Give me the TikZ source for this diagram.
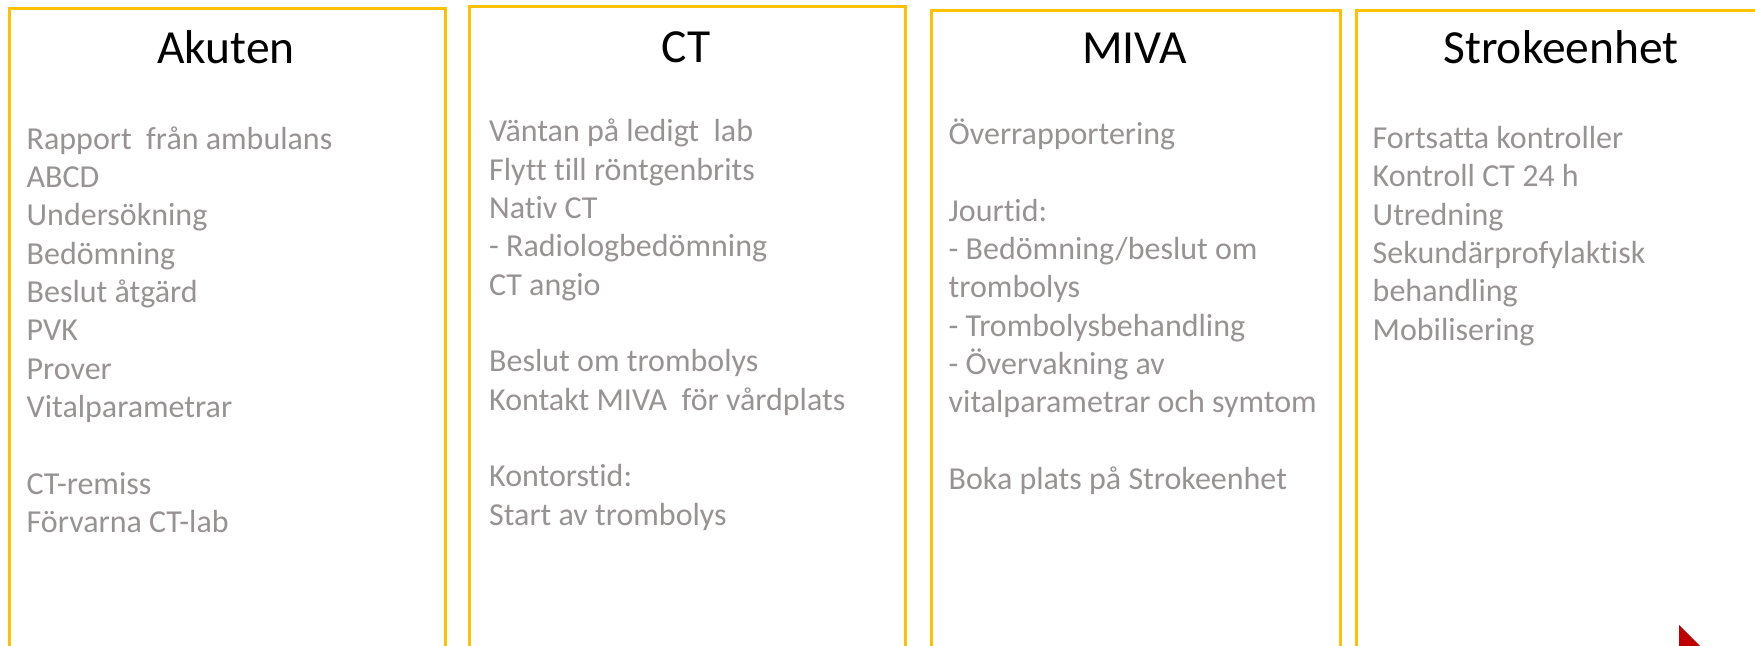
\documentclass[tikz,border=0pt]{standalone}
\usepackage{fontspec}
\setmainfont{Carlito}[Ligatures=NoCommon]
\definecolor{boxgold}{RGB}{255,192,0}
\definecolor{bodygray}{RGB}{151,147,147}
\definecolor{arrowred}{RGB}{192,0,0}
\newcommand\bodylines[1]{\vtop{\baselineskip=38.35pt\lineskiplimit=-100pt\lineskip=0pt #1}}
\begin{document}
\begin{tikzpicture}[x=1pt,y=-1pt,
  stagebox/.style={draw=boxgold,line width=2.6pt,anchor=north west,inner sep=0pt,minimum height=720pt},
  stagetitle/.style={anchor=base,inner sep=0pt,font=\fontsize{47.5}{57}\selectfont,text=black},
  stagebody/.style={anchor=base west,inner sep=0pt,font=\fontsize{32}{38.35}\selectfont,text=bodygray}]
\useasboundingbox (0,0) rectangle (1755,645);
\clip (0,0) rectangle (1755,645);
\fill[white] (0,0) rectangle (1755,645);
% boxes
\node[stagebox,minimum width=436pt] (b1) at (8,7) {};
\node[stagebox,minimum width=436pt] (b2) at (468,5) {};
\node[stagebox,minimum width=409pt] (b3) at (930,9) {};
\node[stagebox,minimum width=412pt] (b4) at (1355,9) {};
% titles
\node[stagetitle] (t1) at (226,63) {Akuten};
\node[stagetitle] (t2) at (686,62) {CT};
\node[stagetitle] (t3) at (1134.5,63.5) {MIVA};
\node[stagetitle] (t4) at (1561,63.3) {Strokeenhet};
% bodies
\node[stagebody] (c1) at (26.5,149) {\bodylines{%
\hbox{Rapport\ \ från ambulans}
\hbox{ABCD}
\hbox{Undersökning}
\hbox{Bedömning}
\hbox{Beslut åtgärd}
\hbox{PVK}
\hbox{Prover}
\hbox{Vitalparametrar}
\hbox{}
\hbox{CT-remiss}
\hbox{Förvarna CT-lab}}};
\node[stagebody] (c2) at (489,141.7) {\bodylines{%
\hbox{Väntan på ledigt\ \ lab}
\hbox{Flytt till röntgenbrits}
\hbox{Nativ CT}
\hbox{- Radiologbedömning}
\hbox{CT angio}
\hbox{}
\hbox{Beslut om trombolys}
\hbox{Kontakt MIVA\ \ för vårdplats}
\hbox{}
\hbox{Kontorstid:}
\hbox{Start av trombolys}}};
\node[stagebody] (c3) at (948.5,144.5) {\bodylines{%
\hbox{Överrapportering}
\hbox{}
\hbox{Jourtid:}
\hbox{- Bedömning/beslut om}
\hbox{trombolys}
\hbox{- Trombolysbehandling}
\hbox{- Övervakning av}
\hbox{vitalparametrar och symtom}
\hbox{}
\hbox{Boka plats på Strokeenhet}}};
\node[stagebody] (c4) at (1372.5,148.3) {\bodylines{%
\hbox{Fortsatta kontroller}
\hbox{Kontroll CT 24 h}
\hbox{Utredning}
\hbox{Sekundärprofylaktisk}
\hbox{behandling}
\hbox{Mobilisering}}};
% red arrow tip at the bottom right
\fill[arrowred] (1679,625) -- (1725,671) -- (1679,671) -- cycle;
\end{tikzpicture}
\end{document}
